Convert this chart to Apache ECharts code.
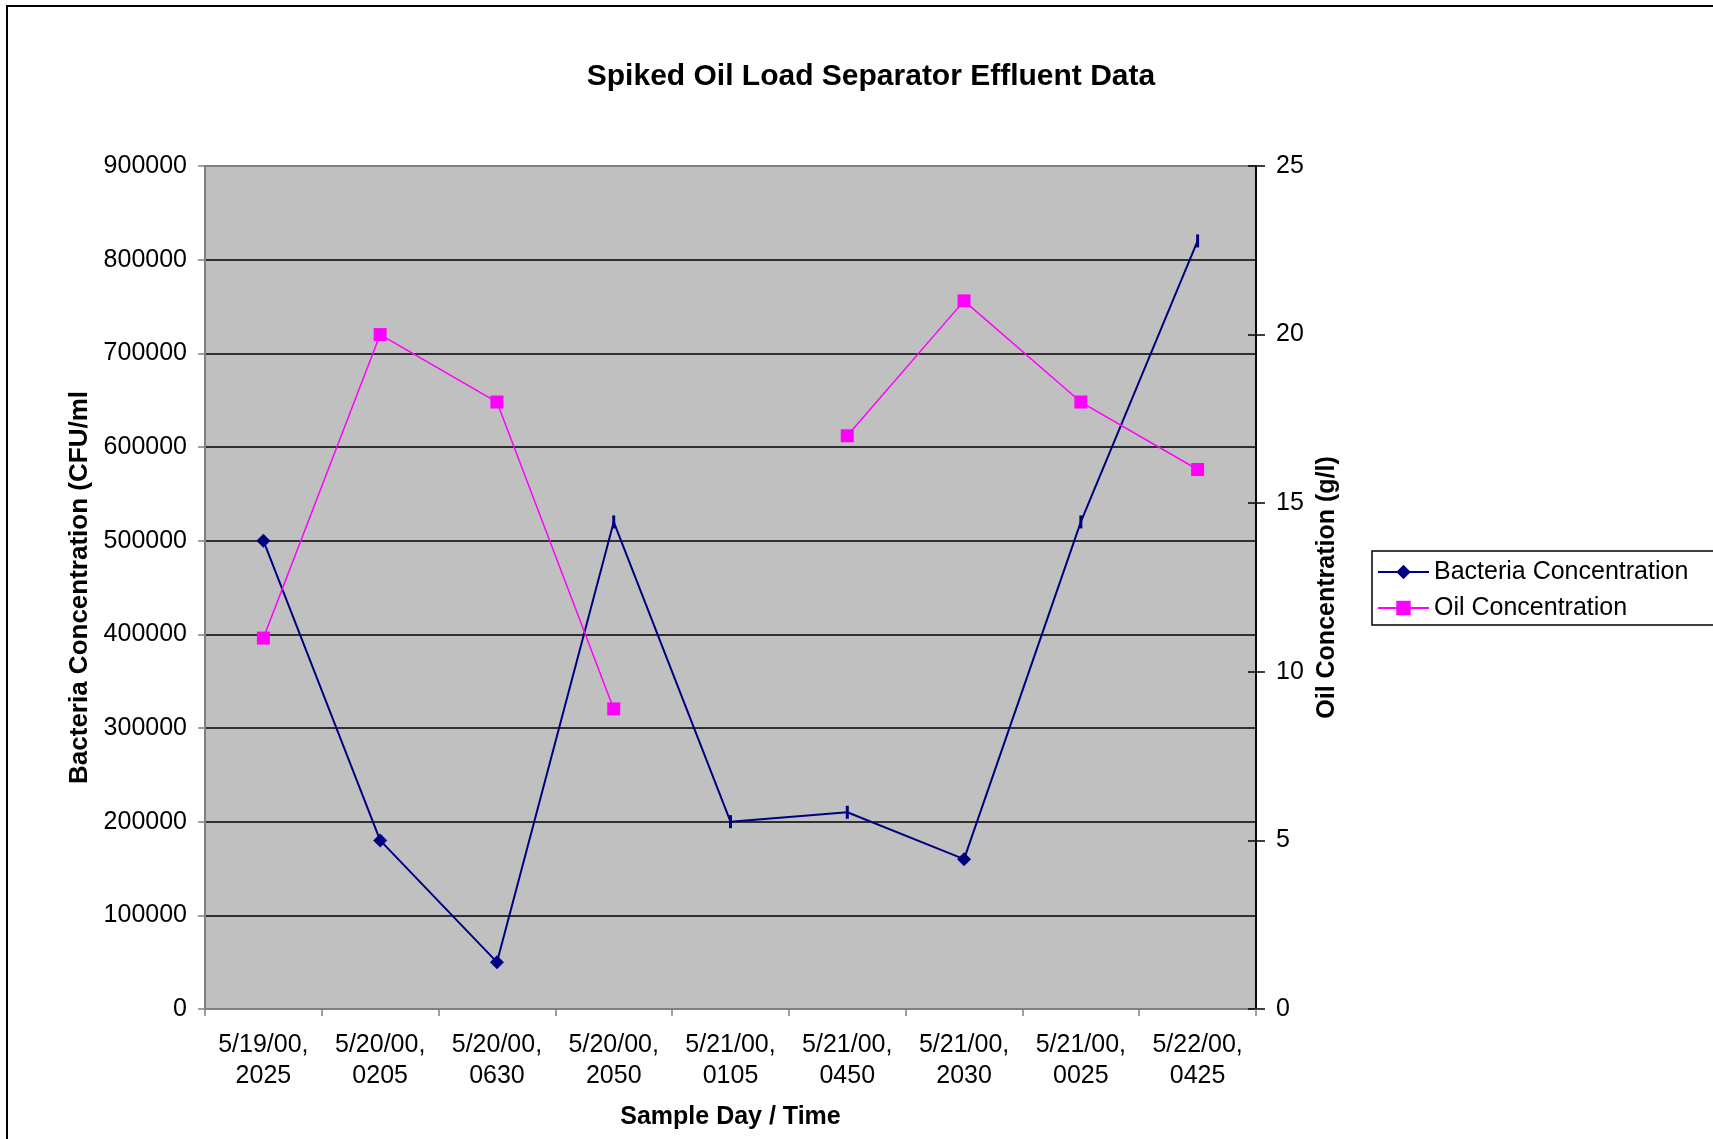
<!DOCTYPE html>
<html>
<head>
<meta charset="utf-8">
<title>Spiked Oil Load Separator Effluent Data</title>
<script src="https://cdn.jsdelivr.net/npm/echarts@6/dist/echarts.min.js"></script>
<style>
  html, body { margin: 0; padding: 0; background: #fff; }
  #chart { width: 1713px; height: 1139px; }
</style>
</head>
<body>
<div id="chart"></div>
<script>
"use strict";

// data
const sample_times = [
  "5/19/00, 2025", "5/20/00, 0205", "5/20/00, 0630", "5/20/00, 2050",
  "5/21/00, 0105", "5/21/00, 0450", "5/21/00, 2030", "5/21/00, 0025",
  "5/22/00, 0425",
];
const bacteria_cfu = [500000, 180000, 50000, 520000, 200000, 210000, 160000, 520000, 820000];
const oil_gl = [11, 20, 18, 8.9, null, 17, 21, 18, 16];
const left_ticks = { min: 0, max: 900000, step: 100000 };
const right_ticks = { min: 0, max: 25, step: 5 };

// points where the bacteria marker shows as a short vertical dash
const dash_marker_idx = [3, 4, 5, 7, 8];

const font = "'Liberation Sans', Arial, sans-serif";
const navy = "#000080";
const magenta = "#FF00FF";

function bacteria_points() {
  return bacteria_cfu.map(function (v, i) {
    if (dash_marker_idx.includes(i)) {
      return { value: v, symbol: "rect", symbolSize: [3, 13] };
    }
    return v;
  });
}

const chart = echarts.init(document.getElementById("chart"), null, { renderer: "canvas" });

chart.setOption({
  animation: false,
  backgroundColor: "#fff",
  textStyle: { fontFamily: font },
  title: {
    text: "Spiked Oil Load Separator Effluent Data",
    left: 871,
    top: 62,
    padding: 0,
    textAlign: "center",
    textStyle: { fontFamily: font, fontSize: 30, fontWeight: "bold", color: "#000" },
  },
  graphic: [
    {
      type: "rect",
      shape: { x: 7, y: 6, width: 1800, height: 1300 },
      style: { fill: "none", stroke: "#000", lineWidth: 2 },
      silent: true,
      z: 100,
    },
  ],
  legend: {
    orient: "vertical",
    left: 1372,
    top: 551,
    padding: [7, 40, 3, 5],
    itemGap: 8,
    itemWidth: 51,
    itemHeight: 18,
    borderColor: "#000",
    borderWidth: 1.5,
    backgroundColor: "#fff",
    textStyle: { fontFamily: font, fontSize: 25, color: "#000", lineHeight: 28 },
    data: ["Bacteria Concentration", "Oil Concentration"],
  },
  grid: {
    left: 205,
    right: 457,
    top: 166,
    bottom: 130,
    show: true,
    backgroundColor: "#C0C0C0",
    borderColor: "#808080",
    borderWidth: 2,
  },
  xAxis: {
    type: "category",
    data: sample_times,
    boundaryGap: true,
    name: "Sample Day / Time",
    nameLocation: "middle",
    nameGap: 96,
    nameTextStyle: { fontFamily: font, fontSize: 25, fontWeight: "bold", color: "#000" },
    axisLine: { lineStyle: { color: "#808080", width: 2 } },
    axisTick: { show: true, length: 7, lineStyle: { color: "#808080", width: 1.5 } },
    axisLabel: {
      fontFamily: font,
      fontSize: 25,
      color: "#000",
      lineHeight: 31,
      margin: 21,
      interval: 0,
      formatter: function (v) { return v.replace(", ", ",\n"); },
    },
    splitLine: { show: false },
  },
  yAxis: [
    {
      type: "value",
      position: "left",
      min: left_ticks.min,
      max: left_ticks.max,
      interval: left_ticks.step,
      name: "Bacteria Concentration (CFU/ml",
      nameLocation: "middle",
      nameGap: 105,
      nameRotate: 90,
      nameTextStyle: { fontFamily: font, fontSize: 26, fontWeight: "bold", color: "#000" },
      axisLine: { show: true, lineStyle: { color: "#808080", width: 2 } },
      axisTick: { show: true, length: 7, lineStyle: { color: "#808080", width: 1.5 } },
      axisLabel: {
        fontFamily: font,
        fontSize: 25,
        color: "#000",
        margin: 18,
        formatter: function (v) { return String(v); },
      },
      splitLine: {
        show: true,
        showMinLine: false,
        showMaxLine: false,
        lineStyle: { color: "#000", width: 1.5 },
      },
    },
    {
      type: "value",
      position: "right",
      min: right_ticks.min,
      max: right_ticks.max,
      interval: right_ticks.step,
      name: "Oil Concentration (g/l)",
      nameLocation: "middle",
      nameGap: 58,
      nameRotate: 90,
      nameTextStyle: { fontFamily: font, fontSize: 25, fontWeight: "bold", color: "#000" },
      axisLine: { show: true, lineStyle: { color: "#000", width: 1.5 } },
      axisTick: { show: true, length: 9, lineStyle: { color: "#000", width: 1.5 } },
      axisLabel: { fontFamily: font, fontSize: 25, color: "#000", margin: 20 },
      splitLine: { show: false },
    },
    {
      // inner half of the crossing ticks on the right axis
      type: "value",
      position: "right",
      min: right_ticks.min,
      max: right_ticks.max,
      interval: right_ticks.step,
      axisLine: { show: true, lineStyle: { color: "#000", width: 1.5 } },
      axisTick: { show: true, inside: true, length: 8, lineStyle: { color: "#000", width: 1.5 } },
      axisLabel: { show: false },
      splitLine: { show: false },
    },
  ],
  series: [
    {
      name: "Bacteria Concentration",
      type: "line",
      yAxisIndex: 0,
      data: bacteria_points(),
      symbol: "diamond",
      symbolSize: 14,
      showAllSymbol: true,
      color: navy,
      lineStyle: { color: navy, width: 2 },
      itemStyle: { color: navy },
      z: 3,
    },
    {
      name: "Oil Concentration",
      type: "line",
      yAxisIndex: 1,
      data: oil_gl,
      connectNulls: false,
      symbol: "rect",
      symbolSize: 13,
      showAllSymbol: true,
      color: magenta,
      lineStyle: { color: magenta, width: 1.5 },
      itemStyle: { color: magenta },
      z: 4,
    },
  ],
});
</script>
</body>
</html>
